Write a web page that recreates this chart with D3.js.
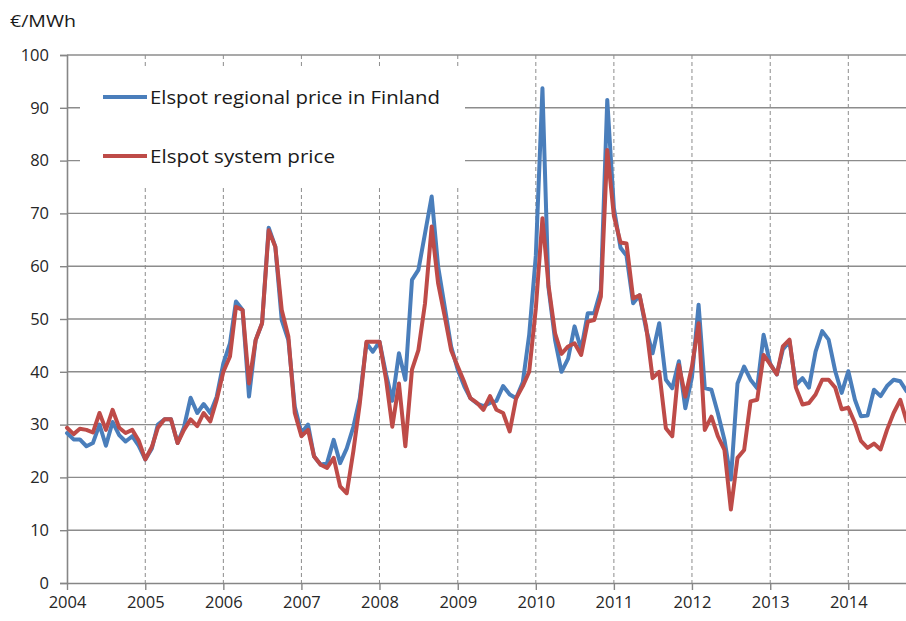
<!DOCTYPE html>
<html>
<head>
<meta charset="utf-8">
<script src="https://cdn.jsdelivr.net/npm/d3@7"></script>
<style>
  body { margin: 0; background: #fff; }
  svg { display: block; font-family: "Open Sans", sans-serif; }
</style>
</head>
<body>
<div id="chart"></div>
<script>
// monthly prices, Jan 2004 .. Oct 2014 (EUR/MWh)
var finlandPrice = [
  28.4, 27.2, 27.2, 25.9, 26.5, 30.0, 26.0, 30.5, 28.0, 26.8, 27.8, 26.0,
  23.4, 25.5, 30.0, 31.0, 31.0, 26.5, 29.5, 35.1, 32.2, 33.9, 32.2, 35.3,
  41.6, 45.4, 53.3, 51.7, 35.3, 46.0, 49.2, 67.3, 63.7, 49.8, 46.0, 33.4,
  28.4, 30.0, 24.0, 22.4, 22.7, 27.1, 22.7, 25.5, 29.6, 35.0, 45.4, 43.8,
  45.7, 39.5, 34.5, 43.5, 38.5, 57.4, 59.3, 66.2, 73.2, 60.0, 52.3, 44.8,
  40.4, 37.2, 35.0, 34.0, 33.5, 34.1, 34.5, 37.3, 35.7, 35.0, 38.0, 47.0,
  62.0, 93.7, 56.0, 46.0, 40.0, 42.5, 48.6, 44.2, 51.1, 51.1, 55.5, 91.5,
  71.0, 63.5, 62.0, 53.0, 54.5, 48.0, 43.5, 49.2, 38.5, 36.9, 42.0, 33.1,
  39.0, 52.7, 36.9, 36.6, 32.2, 27.1, 19.6, 37.8, 41.0, 38.5, 36.9, 47.0,
  41.5, 39.5, 44.2, 45.8, 37.5, 38.8, 37.0, 43.8, 47.7, 46.1, 40.1, 36.0,
  40.1, 34.7, 31.6, 31.7, 36.6, 35.4, 37.3, 38.5, 38.2, 36.3
];

var systemPrice = [
  29.4, 28.2, 29.2, 29.0, 28.5, 32.2, 29.0, 32.8, 29.4, 28.4, 29.0, 27.0,
  23.4, 25.8, 29.4, 31.0, 31.0, 26.5, 29.0, 31.0, 29.7, 32.2, 30.6, 34.7,
  40.0, 42.9, 52.3, 51.7, 37.8, 46.0, 49.2, 66.8, 63.7, 51.7, 46.7, 32.2,
  27.8, 29.0, 24.0, 22.4, 21.8, 23.7, 18.3, 17.0, 25.0, 34.0, 45.7, 45.7,
  45.7, 38.5, 29.6, 37.8, 25.9, 40.4, 44.1, 53.0, 67.5, 56.8, 50.5, 44.1,
  41.0, 38.0, 35.0, 34.1, 32.8, 35.4, 32.8, 32.2, 28.7, 35.0, 37.3, 40.0,
  52.0, 69.1, 56.5, 47.3, 43.4, 44.8, 45.4, 43.2, 49.5, 49.8, 54.2, 82.0,
  69.5, 64.5, 64.3, 53.9, 54.5, 48.6, 38.8, 40.0, 29.3, 27.8, 41.3, 35.3,
  41.0, 49.2, 29.0, 31.5, 27.8, 25.2, 13.9, 23.7, 25.2, 34.4, 34.7, 43.2,
  41.4, 39.5, 44.8, 46.1, 37.0, 33.8, 34.1, 35.7, 38.5, 38.5, 37.0, 32.9,
  33.2, 30.3, 26.9, 25.6, 26.4, 25.3, 29.0, 32.2, 34.7, 30.6
];

var years = [2004, 2005, 2006, 2007, 2008, 2009, 2010, 2011, 2012, 2013, 2014];
var yTicks = [0, 10, 20, 30, 40, 50, 60, 70, 80, 90, 100];
var seriesNames = ["Elspot regional price in Finland", "Elspot system price"];
var seriesColors = ["#4a7ebb", "#be4b48"];

var svgWidth = 906;
var svgHeight = 621;
var margin = { top: 55, right: 0, bottom: 38, left: 67 };
var height = svgHeight - margin.top - margin.bottom;

// one date per month, starting Jan 2004
var months = d3.timeMonth.range(new Date(2004, 0, 1), new Date(2004, finlandPrice.length, 1));

var svg = d3.select("#chart")
  .append("svg")
  .attr("width", svgWidth)
  .attr("height", svgHeight);

var chartGroup = svg.append("g")
  .attr("transform", `translate(${margin.left}, ${margin.top})`);

// 10 years take about 781 px in the original
var xScale = d3.scaleTime()
  .domain([new Date(2004, 0, 1), new Date(2014, 0, 1)])
  .range([0, 781.3]);

var yScale = d3.scaleLinear()
  .domain([0, 100])
  .range([height, 0]);

var plotRight = svgWidth - margin.left;

// horizontal gridlines
chartGroup.append("g")
  .selectAll("line")
  .data(yTicks.filter(d => d > 0))
  .enter()
  .append("line")
  .attr("x1", 0)
  .attr("x2", plotRight)
  .attr("y1", d => yScale(d))
  .attr("y2", d => yScale(d))
  .attr("stroke", "#8c8c8c")
  .attr("stroke-width", 1.4);

// vertical dashed gridlines at each year
chartGroup.append("g")
  .selectAll("line")
  .data(years.slice(1))
  .enter()
  .append("line")
  .attr("x1", d => xScale(new Date(d, 0, 1)))
  .attr("x2", d => xScale(new Date(d, 0, 1)))
  .attr("y1", 0)
  .attr("y2", height)
  .attr("stroke", "#8c8c8c")
  .attr("stroke-width", 1)
  .attr("stroke-dasharray", "4,3");

// y axis
var leftAxis = d3.axisLeft(yScale)
  .tickValues(yTicks)
  .tickSize(7)
  .tickPadding(11);

var yAxis = chartGroup.append("g").call(leftAxis);

// x axis
var bottomAxis = d3.axisBottom(xScale)
  .tickValues(years.map(d => new Date(d, 0, 1)))
  .tickFormat(d3.timeFormat("%Y"))
  .tickSize(7)
  .tickPadding(6);

var xAxis = chartGroup.append("g")
  .attr("transform", `translate(0, ${height})`)
  .call(bottomAxis);

xAxis.select(".domain").attr("d", `M0,0.5H${plotRight}`);

[xAxis, yAxis].forEach(function (ax) {
  ax.select(".domain").attr("stroke", "#868686").attr("stroke-width", 1.6);
  ax.selectAll(".tick line").attr("stroke", "#868686").attr("stroke-width", 1.4);
  ax.selectAll(".tick text")
    .attr("fill", "#262626")
    .style("font-family", "'Open Sans', sans-serif")
    .style("font-size", "16.5px");
});

// legend box (white, covers the gridlines)
var legend = chartGroup.append("g");

legend.append("rect")
  .attr("x", 13)
  .attr("y", 12)
  .attr("width", 385)
  .attr("height", 118)
  .attr("fill", "#fff");

var legendWidths = [290, 185];

seriesNames.forEach(function (name, i) {
  var ly = 42 + i * 59;
  legend.append("line")
    .attr("x1", 36)
    .attr("x2", 80)
    .attr("y1", ly)
    .attr("y2", ly)
    .attr("stroke", seriesColors[i])
    .attr("stroke-width", 4.2);
  legend.append("text")
    .attr("x", 83)
    .attr("y", ly + 6.5)
    .attr("fill", "#1a1a1a")
    .style("font-size", "18px")
    .attr("textLength", legendWidths[i])
    .attr("lengthAdjust", "spacingAndGlyphs")
    .text(name);
});

// lines
var seriesData = [finlandPrice, systemPrice];

seriesData.forEach(function (values, i) {
  var line = d3.line()
    .x((d, j) => xScale(months[j]))
    .y(d => yScale(d));

  chartGroup.append("path")
    .datum(values)
    .attr("d", line)
    .attr("fill", "none")
    .attr("stroke", seriesColors[i])
    .attr("stroke-width", 4)
    .attr("stroke-linejoin", "round")
    .attr("stroke-linecap", "round");
});

// unit label
svg.append("text")
  .attr("x", 10)
  .attr("y", 27)
  .attr("fill", "#1a1a1a")
  .style("font-size", "16.5px")
  .attr("textLength", 66)
  .attr("lengthAdjust", "spacingAndGlyphs")
  .text("€/MWh");
</script>
</body>
</html>
